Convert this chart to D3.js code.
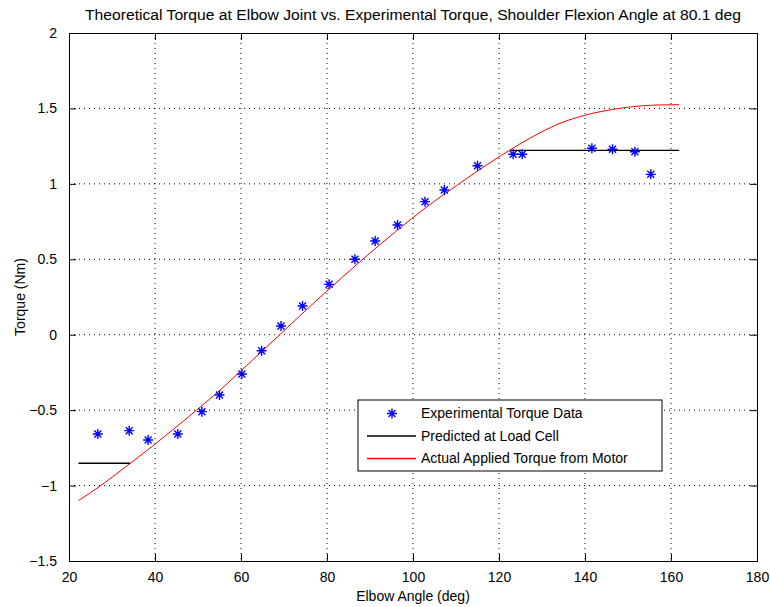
<!DOCTYPE html>
<meta charset="utf-8">

<!-- Load d3.js -->
<script src="https://d3js.org/d3.v7.min.js"></script>

<style>
  body { margin: 0; background: #fff; }
  text { font-family: "Liberation Sans", Arial, sans-serif; fill: #000; }
</style>

<!-- Create a div where the graph will take place -->
<div id="my_dataviz"></div>

<script>

// experimental torque data (stars)
var expAngle  = [26.7, 34.0, 38.4, 45.3, 50.9, 55.0, 60.2, 64.8, 69.3, 74.3, 80.5, 86.5, 91.2, 96.4, 102.8, 107.3, 115.0, 123.3, 125.4, 141.6, 146.4, 151.6, 155.3];
var expTorque = [-0.658, -0.636, -0.698, -0.658, -0.51, -0.40, -0.26, -0.106, 0.058, 0.19, 0.334, 0.50, 0.621, 0.727, 0.882, 0.959, 1.12, 1.196, 1.196, 1.236, 1.229, 1.213, 1.063];

// predicted at load cell (two flat pieces)
var predAngle  = [[22.2, 34.2], [122.7, 161.9]];
var predTorque = [-0.852, 1.222];

// actual applied torque from motor (red curve)
var motorAngle  = [22.2, 27.6, 34.2, 39.8, 43.5, 50, 55.1, 60.2, 65, 69.1, 75, 79.8, 87.5, 91.6, 99.7, 105, 110.2, 115, 119.8, 124.9, 129.5, 134.5, 139.6, 147.4, 152.8, 157, 161.9];
var motorTorque = [-1.10, -0.996, -0.853, -0.73, -0.645, -0.492, -0.368, -0.234, -0.107, 0.003, 0.16, 0.285, 0.48, 0.58, 0.77, 0.885, 0.99, 1.085, 1.175, 1.265, 1.338, 1.405, 1.452, 1.498, 1.516, 1.523, 1.525];

var xTicks = [20, 40, 60, 80, 100, 120, 140, 160, 180];
var yTicks = [-1.5, -1, -0.5, 0, 0.5, 1, 1.5, 2];

var legendLabels = ["Experimental Torque Data", "Predicted at Load Cell", "Actual Applied Torque from Motor"];

// set the dimensions and margins of the graph
var margin = {top: 33, right: 13, bottom: 46, left: 69},
    width = 770 - margin.left - margin.right,
    height = 607 - margin.top - margin.bottom;

var root = d3.select("#my_dataviz")
  .append("svg")
    .attr("width", 770)
    .attr("height", 607);

var svg = root.append("g")
    .attr("transform", "translate(" + margin.left + "," + margin.top + ")");

var x = d3.scaleLinear().domain([20, 180]).range([0, width]);
var y = d3.scaleLinear().domain([-1.5, 2]).range([height, 0]);

// dotted grid
svg.append("g")
  .selectAll("line")
  .data(xTicks.slice(1, -1))
  .enter()
  .append("line")
    .attr("x1", function(d){ return x(d) }).attr("x2", function(d){ return x(d) })
    .attr("y1", 0).attr("y2", height)
    .style("stroke", "#000")
    .style("stroke-width", 1)
    .style("stroke-dasharray", "1,4");
svg.append("g")
  .selectAll("line")
  .data(yTicks.slice(1, -1))
  .enter()
  .append("line")
    .attr("y1", function(d){ return y(d) }).attr("y2", function(d){ return y(d) })
    .attr("x1", 0).attr("x2", width)
    .style("stroke", "#000")
    .style("stroke-width", 1)
    .style("stroke-dasharray", "1,4");

// axes, ticks pointing in on all four sides
var tl = 7;
svg.append("g")
  .attr("transform", "translate(0," + height + ")")
  .call(d3.axisBottom(x).tickValues(xTicks).tickSize(-tl).tickPadding(tl + 4).tickFormat(d3.format("d")));
svg.append("g")
  .call(d3.axisTop(x).tickValues(xTicks).tickSize(-tl).tickFormat(""));
svg.append("g")
  .call(d3.axisLeft(y).tickValues(yTicks).tickSize(-tl).tickPadding(tl + 5).tickFormat(function(d){ return d3.format("")(d) }));
svg.append("g")
  .attr("transform", "translate(" + width + ",0)")
  .call(d3.axisRight(y).tickValues(yTicks).tickSize(-tl).tickFormat(""));

svg.selectAll(".domain").style("stroke", "#000");
svg.selectAll(".tick line").style("stroke", "#000");
svg.selectAll(".tick text").style("font-size", "14px").style("font-family", "'Liberation Sans', Arial, sans-serif");

// red motor torque curve
var motorLine = d3.line()
  .curve(d3.curveMonotoneX)
  .x(function(d, i){ return x(motorAngle[i]) })
  .y(function(d, i){ return y(motorTorque[i]) });
svg.append("path")
  .datum(motorAngle)
  .attr("d", motorLine)
  .style("fill", "none")
  .style("stroke", "#ff0000")
  .style("stroke-width", 1);

// black predicted pieces
svg.append("g")
  .selectAll("line")
  .data(predAngle)
  .enter()
  .append("line")
    .attr("x1", function(d){ return x(d[0]) })
    .attr("x2", function(d){ return x(d[1]) })
    .attr("y1", function(d, i){ return y(predTorque[i]) })
    .attr("y2", function(d, i){ return y(predTorque[i]) })
    .style("stroke", "#000")
    .style("stroke-width", 1.3);

// star marker: plus and cross
function star(sel, r) {
  var c = r * 0.7;
  sel.append("path")
    .attr("d", "M" + (-r) + ",0H" + r + "M0," + (-r) + "V" + r +
               "M" + (-c) + "," + (-c) + "L" + c + "," + c +
               "M" + (-c) + "," + c + "L" + c + "," + (-c))
    .style("stroke", "#0000ff")
    .style("stroke-width", 1.4)
    .style("fill", "none");
}

svg.append("g")
  .selectAll("g")
  .data(expAngle)
  .enter()
  .append("g")
    .attr("transform", function(d, i){ return "translate(" + x(d) + "," + y(expTorque[i]) + ")" })
    .call(star, 5);

// legend
var lg = root.append("g").attr("transform", "translate(358,400)");
lg.append("rect")
  .attr("width", 304).attr("height", 71)
  .style("fill", "#fff").style("stroke", "#000").style("stroke-width", 1);
var rowY = [13.5, 36, 58.5];
lg.append("g").attr("transform", "translate(34," + rowY[0] + ")").call(star, 5);
lg.append("line").attr("x1", 9).attr("x2", 58).attr("y1", rowY[1]).attr("y2", rowY[1])
  .style("stroke", "#000").style("stroke-width", 1.3);
lg.append("line").attr("x1", 9).attr("x2", 58).attr("y1", rowY[2]).attr("y2", rowY[2])
  .style("stroke", "#ff0000").style("stroke-width", 1.3);
lg.selectAll("mylabels")
  .data(legendLabels)
  .enter()
  .append("text")
    .attr("x", 63)
    .attr("y", function(d, i){ return rowY[i] })
    .attr("dy", "0.35em")
    .style("font-size", "14px")
    .text(function(d){ return d });

// title and axis labels
root.append("text")
  .attr("x", 85).attr("y", 20)
  .attr("textLength", 656)
  .attr("lengthAdjust", "spacingAndGlyphs")
  .style("font-size", "15.5px")
  .text("Theoretical Torque at Elbow Joint vs. Experimental Torque, Shoulder Flexion Angle at 80.1 deg");

root.append("text")
  .attr("x", margin.left + width / 2).attr("y", 601)
  .attr("text-anchor", "middle")
  .style("font-size", "14px")
  .text("Elbow Angle (deg)");

root.append("text")
  .attr("transform", "translate(25," + (margin.top + height / 2) + ") rotate(-90)")
  .attr("text-anchor", "middle")
  .style("font-size", "14px")
  .text("Torque (Nm)");

</script>
